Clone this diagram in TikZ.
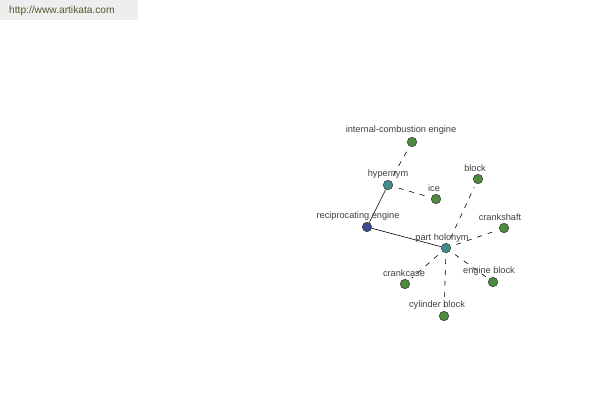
\documentclass[tikz,border=0pt]{standalone}
\usepackage{fontspec}
\setmainfont{Liberation Sans}
\begin{document}
\begin{tikzpicture}[x=1pt,y=-1pt,
  vert/.style={circle,draw=black!80,line width=0.5pt,minimum size=9.5pt,inner sep=0pt},
  leaf/.style={vert,fill=leafgreen},
  rel/.style={vert,fill=relteal},
  root/.style={vert,fill=rootblue},
  lab/.style={font=\fontsize{9.2}{10}\selectfont,text=black!75,inner sep=0pt},
  solidedge/.style={draw=black,line width=0.6pt},
  dashedge/.style={draw=black,line width=0.6pt,dash pattern=on 5pt off 6pt,shorten <=6pt,shorten >=4pt}]
\definecolor{leafgreen}{HTML}{4E8B3E}
\definecolor{relteal}{HTML}{3F8E8C}
\definecolor{rootblue}{HTML}{3C4A8E}
\definecolor{hdrgray}{HTML}{EEEEEE}
\definecolor{hdrtext}{HTML}{4D5A2C}
\useasboundingbox (0,0) rectangle (600,400);
\fill[white] (0,0) rectangle (600,400);
\fill[hdrgray] (0,0) rectangle (138,20);
\node[anchor=west,inner sep=0pt,text=hdrtext,font=\fontsize{10.2}{11}\selectfont] (hdr) at (9,11) {http://www.artikata.com};

\node[root] (re) at (367,227) {};
\node[rel] (hy) at (388,185) {};
\node[rel] (ph) at (446,248) {};
\node[leaf] (ice) at (436,199) {};
\node[leaf] (ic) at (412,142) {};
\node[leaf] (bl) at (478,179) {};
\node[leaf] (cs) at (504,228) {};
\node[leaf] (cc) at (405,284) {};
\node[leaf] (eb) at (493,282) {};
\node[leaf] (cb) at (444,316) {};

\draw[solidedge] (re) -- (hy);
\draw[solidedge] (re) -- (ph);
\draw[dashedge] (hy) -- (ice);
\draw[dashedge] (hy) -- (ic);
\draw[dashedge] (ph) -- (bl);
\draw[dashedge] (ph) -- (cs);
\draw[dashedge] (ph) -- (cc);
\draw[dashedge] (ph) -- (eb);
\draw[dashedge] (ph) -- (cb);

\node[lab] (lre) at (358,216) {reciprocating engine};
\node[lab] (lhy) at (388,174) {hypernym};
\node[lab] (lph) at (442,238) {part holonym};
\node[lab] (lice) at (434,188) {ice};
\node[lab] (lic) at (401,130) {internal-combustion engine};
\node[lab] (lbl) at (475,168) {block};
\node[lab] (lcs) at (500,217) {crankshaft};
\node[lab] (lcc) at (404,273) {crankcase};
\node[lab] (leb) at (489,271) {engine block};
\node[lab] (lcb) at (437,305) {cylinder block};
\end{tikzpicture}
\end{document}
